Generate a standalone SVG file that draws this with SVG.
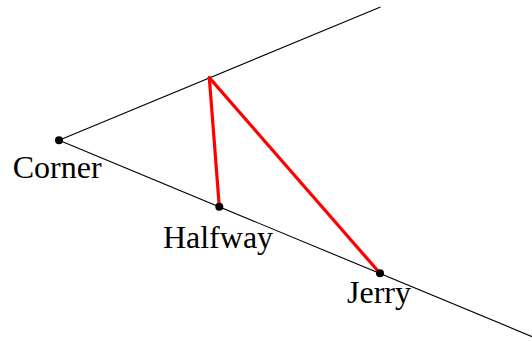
<svg xmlns="http://www.w3.org/2000/svg" width="532" height="341" viewBox="0 0 532 341">
<style>
.ray{stroke:#000;stroke-width:1.1;fill:none}
.red{stroke:#ff0000;stroke-width:3.2;fill:none;stroke-linecap:round}
.dot{fill:#000}
.lbl{font-family:"Liberation Serif","DejaVu Serif",serif;font-size:32px;fill:#000;text-anchor:middle}
</style>
<rect width="532" height="341" fill="#fff"/>
<g id="connectors">
<line class="ray" x1="59" y1="140.3" x2="380.5" y2="7"/>
<line class="ray" x1="59" y1="140.3" x2="533" y2="337"/>
<line class="red" x1="209.3" y1="77.6" x2="219.3" y2="206.7"/>
<line class="red" x1="209.3" y1="77.6" x2="380" y2="273.3"/>
</g>
<g id="corner">
<circle class="dot" cx="59" cy="140.3" r="4"/>
<text class="lbl" x="57.2" y="177.5">Corner</text>
</g>
<g id="halfway">
<circle class="dot" cx="219.3" cy="206.7" r="4"/>
<text class="lbl" x="218" y="248.3">Halfway</text>
</g>
<g id="jerry">
<circle class="dot" cx="380" cy="273.3" r="4"/>
<text class="lbl" x="379" y="302.5">Jerry</text>
</g>
</svg>
